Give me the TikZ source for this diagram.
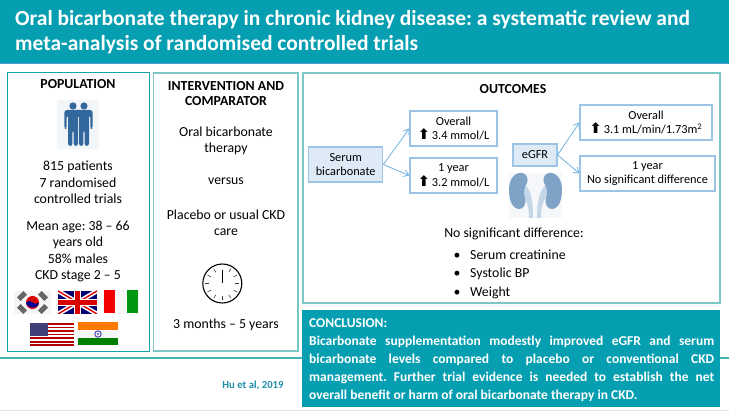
\documentclass[tikz,border=0pt]{standalone}
\usepackage{fontspec}
\setmainfont{Carlito}
\newfontfamily\symfont{DejaVu Sans}
\usetikzlibrary{arrows.meta}
\frenchspacing
\definecolor{teal1}{HTML}{069FB1}
\definecolor{tealdark}{HTML}{13A3A8}
\definecolor{teallight}{HTML}{7CC7C4}
\definecolor{bluefill}{HTML}{DEEBF7}
\definecolor{blueline}{HTML}{9DC3E6}
\definecolor{arrowblue}{HTML}{6FB3E0}
\definecolor{iconblue}{HTML}{33689F}
\definecolor{kidneyblue}{HTML}{7FA3C7}
\definecolor{ureter}{HTML}{C5D6E6}
\definecolor{citeblue}{HTML}{1F8FA8}
\newcommand{\upmark}{\raisebox{0pt}[0pt][0pt]{\symfont\bfseries\fontsize{14.5}{14.5}\selectfont ⬆}}
\newcommand{\jline}[1]{\makebox[405pt][s]{#1}}
\tikzset{
  body/.style={font=\fontsize{13.8}{16.4}\selectfont,align=center,inner sep=0pt,text=black},
  head/.style={font=\fontsize{13.8}{15.6}\selectfont\bfseries,align=center,inner sep=0pt,text=black},
  frame/.style={draw=teallight,line width=1.3pt,fill=white},
  outbox/.style={draw=blueline,line width=1.2pt,fill=white,align=center,inner sep=0pt,font=\fontsize{12.3}{14.6}\selectfont},
  srcbox/.style={outbox,fill=bluefill},
  link/.style={draw=arrowblue,line width=.8pt,-{Straight Barb[length=5pt,width=7pt]}},
  bullet item/.style={body,anchor=west}
}
\newcommand{\person}[1]{%
  \fill[iconblue] (#1,106) circle (3.6);
  \fill[iconblue,rounded corners=2.5] (#1-8.6,110) -- (#1+8.6,110) -- (#1+8.6,129) -- (#1+6.3,129) -- (#1+6.3,115)
     -- (#1+5,115) -- (#1+5,146) -- (#1+.6,146) -- (#1+.6,130) -- (#1-.6,130) -- (#1-.6,146) -- (#1-5,146) -- (#1-5,115)
     -- (#1-6.3,115) -- (#1-6.3,129) -- (#1-8.6,129) -- cycle;
}
\begin{document}
\begin{tikzpicture}[x=1pt,y=-1pt]
\useasboundingbox (0,0) rectangle (729,411);
\fill[white] (0,0) rectangle (729,411);
% header
\fill[teal1] (0,0) rectangle (729,64);
\draw[color=teal1!70!blue!70!white,line width=1pt] (0,64) -- (729,64);
\node[anchor=west,inner sep=0pt,align=left,text=white,font=\fontsize{21.5}{24.8}\selectfont\bfseries] (title) at (15,32)
  {Oral bicarbonate therapy in chronic kidney disease: a systematic review and\\meta-analysis of randomised controlled trials};
% rules
\draw[color=tealdark!80,line width=1.4pt] (0,358) -- (729,358);
\draw[color=black!12,line width=.8pt] (0,410) -- (729,410);
% frames
\draw[draw=tealdark,line width=1pt,fill=white] (7.5,72.5) rectangle (149.5,351.5);
\draw[frame] (153.5,73) rectangle (298,351);
\draw[frame] (303,73) rectangle (720,303);
% population
\node[head] (pophead) at (78,84.5) {POPULATION};
\fill[iconblue!6] (57,100) rectangle (99,149);
\person{84}
\draw[color=iconblue!6,line width=.6pt] (75,110) -- (75,146);
\person{73}
\node[body] (pop1) at (78,182.5) {815 patients\\7 randomised\\controlled trials};
\node[body] (pop2) at (78,251.5) {Mean age: 38 – 66\\years old\\58\% males\\CKD stage 2 – 5};
% Korea
\begin{scope}[shift={(14,291)}]
  \fill[black!4] (0,0) rectangle (37,23);
  \fill[red!85!black] (18.5,11.5) circle (6.5);
  \fill[blue!60!black] (12.2,11.5) .. controls (13,18) and (24,19) .. (24.8,11.5) .. controls (23,14) and (20,13) .. (18.5,11.5) .. controls (16,9.5) and (13.5,9.5) .. (12.2,11.5) -- cycle;
  \foreach \p/\a in {(8,5)/45,(29,5)/-45,(8,18)/-45,(29,18)/45}
    \fill[black!60,rotate around={\a:\p}] \p ++(-4.5,-2.5) rectangle ++(9,5);
\end{scope}
% UK
\begin{scope}
  \clip (58,291) rectangle (97,314);
  \fill[blue!45!black] (58,291) rectangle (97,314);
  \draw[white,line width=4.5pt] (58,291) -- (97,314) (58,314) -- (97,291);
  \draw[red!85!black,line width=1.4pt] (58,291) -- (97,314) (58,314) -- (97,291);
  \draw[white,line width=7.5pt] (77.5,291) -- (77.5,314) (58,302.5) -- (97,302.5);
  \draw[red!85!black,line width=4.5pt] (77.5,291) -- (77.5,314) (58,302.5) -- (97,302.5);
\end{scope}
% Italy
\fill[black!3] (103,290) rectangle (139,314);
\fill[red!95!black] (104,290) rectangle (115,313);
\fill[green!60!black!90!teal] (127,290) rectangle (138,313);
% USA
\begin{scope}
  \fill[white] (30,323) rectangle (74,346);
  \foreach \i in {0,...,6} \fill[red!70!black] (30,323+\i*3.55) rectangle (74,324.8+\i*3.55);
  \fill[blue!30!black!75!white] (30,323) rectangle (48,336);
\end{scope}
% India
\fill[black!3] (77,322) rectangle (118,346);
\fill[orange!95!red] (78,322.5) rectangle (118,330);
\fill[green!50!black] (78,338) rectangle (118,345.5);
\draw[color=blue!40!gray,line width=1pt] (98,334) circle (3.2);
\fill[blue!40!gray!70] (98,334) circle (1.5);
% intervention
\node[head] (inthead) at (226,93.5) {INTERVENTION AND\\COMPARATOR};
\node[body] (int1) at (226,141) {Oral bicarbonate\\therapy};
\node[body] (int2) at (226,181.5) {versus};
\node[body] (int3) at (226,222.5) {Placebo or usual CKD\\care};
\node[body] (int4) at (226,325) {3 months – 5 years};
% clock
\draw[black,line width=1.1pt,fill=white] (222.3,283.5) circle (19.5);
\foreach \a in {30,60,...,330} \draw[color=black!75,line width=.6pt] (222.3,283.5) ++(\a-90:17) -- ++(\a-90:-4);
\draw[black,line width=1.1pt] (222.3,283.5) -- (222.3,270);
% outcomes
\node[head] (outhead) at (513,89.5) {OUTCOMES};
\node[srcbox,minimum width=74pt,minimum height=35pt] (serum) at (345.7,164.5) {Serum\\bicarbonate};
\node[outbox,minimum width=87pt,minimum height=35pt] (ov1) at (453.5,128.5) {Overall\\\upmark\,3.4 mmol/L};
\node[outbox,minimum width=87pt,minimum height=35pt] (yr1) at (453.5,175.5) {1 year\\\upmark\,3.2 mmol/L};
\node[srcbox,minimum width=44pt,minimum height=22pt] (egfr) at (535,155) {eGFR};
\node[outbox,minimum width=132pt,minimum height=35pt] (ov2) at (646,122.5) {Overall\\\upmark\,3.1 mL/min/1.73m\textsuperscript{2}};
\node[outbox,minimum width=135pt,minimum height=35pt] (yr2) at (647.5,173.5) {1 year\\No significant difference};
\draw[link] (serum.east) -- (ov1.west);
\draw[link] (serum.east) -- (yr1.west);
\draw[link] (egfr.east) -- (ov2.west);
\draw[link] (egfr.east) -- (yr2.west);
% kidneys
\fill[iconblue!5] (509,173) rectangle (562,218);
\fill[ureter] (524,184) .. controls (530,188) and (533,198) .. (533,218) -- (529,218) .. controls (529,205) and (526,198) .. (521,196) -- cycle;
\fill[ureter] (547,184) .. controls (541,188) and (537,198) .. (537,218) -- (541,218) .. controls (541,205) and (544,198) .. (549,196) -- cycle;
\fill[kidneyblue] (519,173) .. controls (526,172) and (529,178) .. (527,183) .. controls (524,187) and (523,193) .. (525,198) .. controls (527,204) and (523,210) .. (518,209) .. controls (511,207) and (509,198) .. (509,190) .. controls (509,181) and (513,174) .. (519,173) -- cycle;
\fill[kidneyblue] (552,173) .. controls (545,172) and (542,178) .. (544,183) .. controls (547,187) and (548,193) .. (546,198) .. controls (544,204) and (548,210) .. (553,209) .. controls (560,207) and (562,198) .. (562,190) .. controls (562,181) and (558,174) .. (552,173) -- cycle;
\node[body] (nsd) at (514,233.5) {No significant difference:};
\node[bullet item] (b1) at (453.5,254.5) {\makebox[16.5pt][l]{•}Serum creatinine};
\node[bullet item] (b2) at (453.5,273.5) {\makebox[16.5pt][l]{•}Systolic BP};
\node[bullet item] (b3) at (453.5,292.5) {\makebox[16.5pt][l]{•}Weight};
% conclusion
\fill[teal1] (302,310) rectangle (720,407);
\node[anchor=west,inner sep=0pt,text=white,align=left,font=\fontsize{13.5}{18}\selectfont\bfseries] (concl) at (309,360.2)
  {CONCLUSION:\\
   \jline{Bicarbonate supplementation modestly improved eGFR and serum}\\
   \jline{bicarbonate levels compared to placebo or conventional CKD}\\
   \jline{management. Further trial evidence is needed to establish the net}\\
   overall benefit or harm of oral bicarbonate therapy in CKD.};
% citation
\node[inner sep=0pt,text=citeblue,font=\fontsize{10.7}{12}\selectfont\bfseries] (cite) at (253,385) {Hu et al, 2019};
\end{tikzpicture}
\end{document}
